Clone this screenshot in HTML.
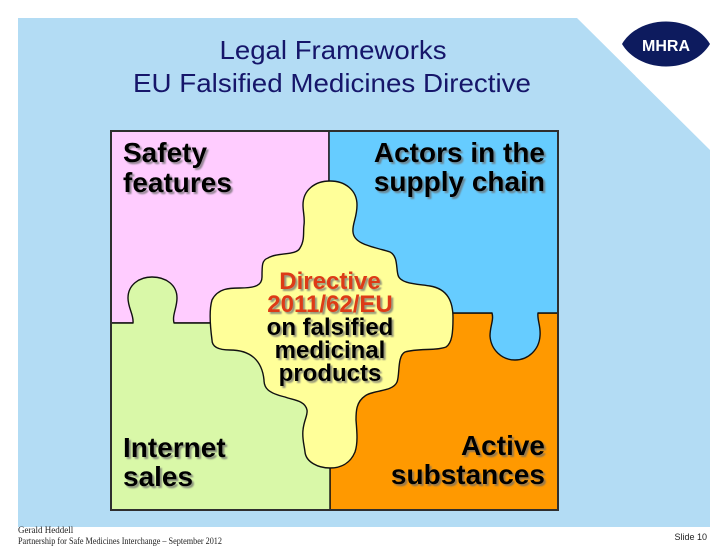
<!DOCTYPE html>
<html>
<head>
<meta charset="utf-8">
<style>
  html, body { margin:0; padding:0; background:#ffffff; }
  svg { display:block; }
</style>
</head>
<body>
<svg width="728" height="546" viewBox="0 0 728 546" xmlns="http://www.w3.org/2000/svg">
  <defs>
    <filter id="sh" x="-10%" y="-20%" width="130%" height="150%">
      <feDropShadow dx="2" dy="2" stdDeviation="0.9" flood-color="#6a6a6a" flood-opacity="0.7"/>
    </filter>
  </defs>

  <!-- background panel -->
  <path d="M18,18 H577 L710,150 V527 H18 Z" fill="#b3dcf4"/>

  <!-- MHRA logo -->
  <path d="M622,44 C640,14 692,14 710,44 C692,74 640,74 622,44 Z" fill="#0d1b5e"/>
  <text x="666" y="51" text-anchor="middle" font-family="Liberation Sans, sans-serif" font-weight="bold" font-size="16" fill="#ffffff">MHRA</text>

  <!-- Title -->
  <g font-family="Liberation Sans, sans-serif" font-size="26" fill="#16166a" text-anchor="middle">
    <text x="333" y="59" textLength="227" lengthAdjust="spacingAndGlyphs">Legal Frameworks</text>
    <text x="332" y="92" textLength="398" lengthAdjust="spacingAndGlyphs">EU Falsified Medicines Directive</text>
  </g>

  <!-- Puzzle pieces -->
  <g stroke="#111111" stroke-width="1.4" stroke-linejoin="round">
    <rect x="111" y="131" width="218" height="192" fill="#ffccff"/>
    <rect x="330" y="313" width="228" height="197" fill="#ff9900"/>
    <path d="M111,323 H133 C134,315 128,308 128,298 C128,285 139,277 152,277 C166,277 177,285 177,298 C177,308 172,315 174,323 H330 V510 H111 Z" fill="#d9f8a8"/>
    <path d="M329,131 H558 V313 H538 C537,320 541,326 540,336 C539,350 528,360 515,360 C502,360 491,350 490,336 C490,326 494,320 492,313 H329 Z" fill="#66ccff"/>
    <path d="M330,181
             C345,181 357,190 357,205
             C357,218 352,224 353,232
             C354,245 375,247 390,252
             C398,256 396,268 398,275
             C400,284 418,284 430,286
             C448,289 453,302 453,318
             C453,333 452,343 446,347
             C436,351 418,348 405,352
             C397,356 400,375 397,382
             C393,392 372,390 365,396
             C356,402 356,412 356,420
             C357,432 358,443 355,452
             C350,464 340,468 330,468
             C318,468 306,462 305,452
             C304,444 302,438 303,430
             C304,420 308,415 307,410
             C305,400 292,400 285,397
             C268,393 264,388 264,380
             C262,360 250,350 230,350
             C218,350 212,347 212,340
             C210,325 209,310 212,300
             C218,288 230,288 240,288
             C256,288 262,285 262,277
             C262,265 262,260 268,258
             C278,252 296,256 300,248
             C305,240 303,232 304,225
             C305,218 303,212 303,205
             C303,190 315,181 330,181 Z" fill="#ffff99"/>
  </g>
  <rect x="111" y="131" width="447" height="379" fill="none" stroke="#2e2e2e" stroke-width="2"/>

  <!-- Quadrant labels -->
  <g font-family="Liberation Sans, sans-serif" font-weight="bold" font-size="28" fill="#000000" filter="url(#sh)">
    <text x="123" y="162">Safety</text>
    <text x="123" y="192">features</text>
    <text x="545" y="162" text-anchor="end">Actors in the</text>
    <text x="545" y="191" text-anchor="end">supply chain</text>
    <text x="123" y="457">Internet</text>
    <text x="123" y="486">sales</text>
    <text x="545" y="455" text-anchor="end">Active</text>
    <text x="545" y="484" text-anchor="end">substances</text>
  </g>

  <!-- Center labels -->
  <g font-family="Liberation Sans, sans-serif" font-weight="bold" font-size="24" text-anchor="middle" filter="url(#sh)">
    <text x="330" y="289" fill="#dd3b14">Directive</text>
    <text x="330" y="312" fill="#dd3b14">2011/62/EU</text>
    <text x="330" y="335" fill="#000000">on falsified</text>
    <text x="330" y="358" fill="#000000">medicinal</text>
    <text x="330" y="381" fill="#000000">products</text>
  </g>

  <!-- Footer -->
  <g font-family="Liberation Serif, serif" font-size="9" fill="#222222">
    <text x="18" y="533">Gerald Heddell</text>
    <text x="18" y="544" textLength="204" lengthAdjust="spacingAndGlyphs">Partnership for Safe Medicines Interchange – September 2012</text>
  </g>
  <text x="707" y="540" text-anchor="end" font-family="Liberation Sans, sans-serif" font-size="9" fill="#222222">Slide 10</text>
</svg>
</body>
</html>
